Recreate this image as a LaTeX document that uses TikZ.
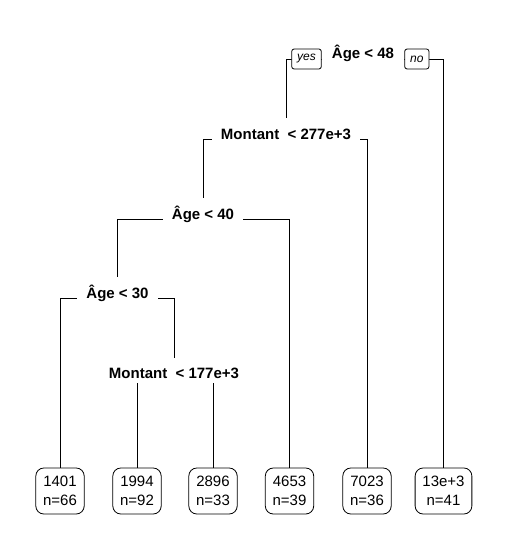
\documentclass[tikz,border=0pt]{standalone}
\usepackage{fontspec}
\setmainfont{Liberation Sans}
\usetikzlibrary{backgrounds}
\tikzset{
  split/.style={fill=white, font=\fontsize{15}{18}\selectfont\bfseries, anchor=base,
    text height=21pt, text depth=4.5pt, inner ysep=0pt, inner xsep=9pt},
  leaf/.style={draw, fill=white, rounded corners=8pt, line width=0.8pt,
    font=\fontsize{15}{19}\selectfont, align=center, minimum height=46pt, inner xsep=7.3pt},
  yn/.style={draw, fill=white, rounded corners=2.5pt, line width=0.8pt,
    font=\fontsize{12}{14}\selectfont\itshape, minimum height=20pt, inner xsep=5.5pt, inner ysep=0pt},
  edge/.style={draw, line width=0.8pt}
}
\begin{document}
\begin{tikzpicture}[x=1pt, y=-1pt]
\useasboundingbox (0,0) rectangle (507,551);
% split labels
\node[split, inner xsep=10pt] (root) at (363,59) {Âge < 48};
\node[yn, anchor=east] (yes) at (root.base west) {yes};
\node[yn, anchor=west] (no) at (root.base east) {no};
\node[split] (m277) at (286,139) {Montant\ \ < 277e+3};
\node[split] (a40) at (203,219) {Âge < 40};
\node[split] (a30) at (117.5,298) {Âge < 30};
\node[split] (m177) at (174,378.5) {Montant\ \ < 177e+3};
% leaves
\node[leaf] (l1) at (60,491) {1401\\n=66};
\node[leaf] (l2) at (137,491) {1994\\n=92};
\node[leaf] (l3) at (213,491) {2896\\n=33};
\node[leaf] (l4) at (289.5,491) {4653\\n=39};
\node[leaf] (l5) at (367,491) {7023\\n=36};
\node[leaf] (l6) at (443.5,491) {13e+3\\n=41};
% connectors
\begin{pgfonlayer}{background}
\path[edge] (root.base) -| (m277.base);
\path[edge] (root.base) -| (l6.center);
\path[edge] (m277.base) -| (a40.base);
\path[edge] (m277.base) -| (l5.center);
\path[edge] (a40.base) -| (a30.base);
\path[edge] (a40.base) -| (l4.center);
\path[edge] (a30.base) -| (l1.center);
\path[edge] (a30.base) -| (m177.base);
\path[edge] (m177.base) -| (l2.center);
\path[edge] (m177.base) -| (l3.center);
\end{pgfonlayer}
\end{tikzpicture}
\end{document}
